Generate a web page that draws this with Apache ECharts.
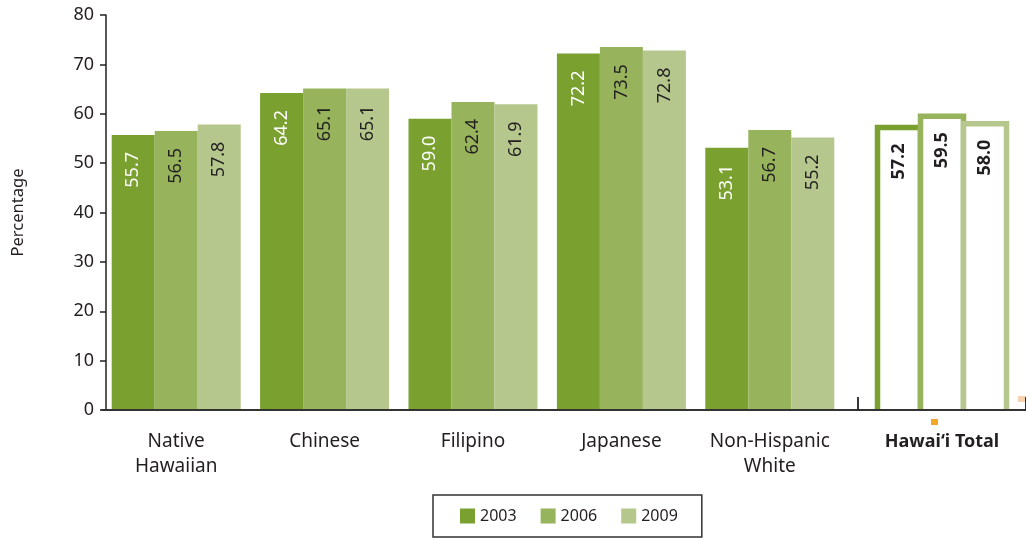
<!DOCTYPE html>
<html><head><meta charset="utf-8">
<script src="https://cdn.jsdelivr.net/npm/echarts@6/dist/echarts.min.js"></script>
<style>html,body{margin:0;padding:0;background:#fff}#c{width:1026px;height:540px}</style>
</head><body><div id="c"></div>
<script>
const categories = ['Native\nHawaiian', 'Chinese', 'Filipino', 'Japanese', 'Non-Hispanic\nWhite'];
const totalCategory = ['Hawai\u2018i Total'];
const years = ['2003', '2006', '2009'];
const v2003 = [55.7, 64.2, 59.0, 72.2, 53.1];
const v2006 = [56.5, 65.1, 62.4, 73.5, 56.7];
const v2009 = [57.8, 65.1, 61.9, 72.8, 55.2];
const total = [57.2, 59.5, 58.0];
const yTicks = {min: 0, max: 80, interval: 10};

const colors = ['#7aa12f', '#97b35c', '#b5c78d'];
const labelColors = ['#ffffff', '#231f20', '#231f20'];
const FONT = 'Noto Sans';
const TXT = '#231f20';
const groups = [v2003, v2006, v2009];
const BAR_W = 43;

const series = [];
years.forEach((y, i) => {
  series.push({
    name: y, type: 'bar', xAxisIndex: 0, yAxisIndex: 0,
    data: groups[i], barWidth: BAR_W, barGap: '0%',
    itemStyle: {color: colors[i]},
    label: {show: true, position: 'insideTop', rotate: 90, align: 'right', verticalAlign: 'middle',
      distance: 17, color: labelColors[i], fontFamily: FONT, fontSize: 18,
      formatter: p => p.value.toFixed(1)}
  });
});
// Outlined (open-bottom) bars for the Hawai'i Total group
years.forEach((y, i) => {
  series.push({
    name: y, type: 'custom', xAxisIndex: 1, yAxisIndex: 1,
    itemStyle: {color: colors[i]},
    data: [[0, total[i]]],
    renderItem: function (params, api) {
      const cat = api.value(0), v = api.value(1);
      const base = api.coord([cat, 0]);
      const top = api.coord([cat, v]);
      const cx = base[0] + (i - 1) * BAR_W;
      const x0 = cx - BAR_W / 2, x1 = cx + BAR_W / 2;
      return {
        type: 'group',
        children: [
          {type: 'rect', shape: {x: x0, y: top[1], width: BAR_W, height: base[1] - top[1]},
            style: {fill: '#ffffff'}},
          {type: 'polyline', shape: {points: [[x0, base[1]], [x0, top[1]], [x1, top[1]], [x1, base[1]]]},
            style: {stroke: colors[i], lineWidth: 5.5, fill: null, lineJoin: 'miter'}},
          {type: 'text', x: cx, y: top[1] + 16, rotation: Math.PI / 2,
            style: {text: v.toFixed(1), align: 'right', verticalAlign: 'middle',
              font: 'bold 18px "' + FONT + '"', fill: TXT}}
        ]
      };
    }
  });
});

const chart = echarts.init(document.getElementById('c'), null, {renderer: 'canvas'});
chart.setOption({
  animation: false,
  textStyle: {fontFamily: FONT, color: TXT},
  grid: [
    {left: 102, top: 15, width: 742, bottom: 130},
    {left: 858, top: 15, width: 175, bottom: 130},
    {left: 102, top: 15, right: 0, bottom: 130}
  ],
  legend: {
    data: years, left: 433, top: 495, orient: 'horizontal',
    padding: [13, 24, 13, 27], itemWidth: 15, itemHeight: 15, itemGap: 24,
    icon: 'rect', borderColor: '#333', borderWidth: 1.5,
    textStyle: {fontFamily: FONT, fontSize: 16, color: TXT}
  },
  xAxis: [
    {type: 'category', gridIndex: 0, data: categories,
      axisLine: {show: false}, axisTick: {show: false},
      axisLabel: {fontFamily: FONT, fontSize: 19, color: TXT, lineHeight: 25, margin: 19, interval: 0}},
    {type: 'category', gridIndex: 1, data: totalCategory, z: 10,
      axisLine: {show: false},
      axisTick: {show: true, inside: true, length: 13, lineStyle: {color: TXT, width: 1.8}},
      axisLabel: {fontFamily: FONT, fontSize: 18, fontWeight: 'bold', color: TXT, lineHeight: 25, margin: 19, interval: 0}},
    {type: 'category', gridIndex: 2, data: [''], z: 10,
      axisLine: {show: true, lineStyle: {color: '#333', width: 1.8}},
      axisTick: {show: false}, axisLabel: {show: false}}
  ],
  yAxis: [
    {type: 'value', gridIndex: 0, min: yTicks.min, max: yTicks.max, interval: yTicks.interval, offset: -4,
      name: 'Percentage', nameLocation: 'middle', nameGap: 79,
      nameTextStyle: {fontFamily: FONT, fontSize: 16.5, color: TXT},
      axisLine: {show: true, lineStyle: {color: TXT, width: 1.5}},
      axisTick: {show: true, length: 6, lineStyle: {color: TXT, width: 1.5}},
      splitLine: {show: false},
      axisLabel: {fontFamily: FONT, fontSize: 18, color: TXT, margin: 12}},
    {type: 'value', gridIndex: 1, min: yTicks.min, max: yTicks.max, interval: yTicks.interval, show: false,
      splitLine: {show: false}},
    {type: 'value', gridIndex: 2, min: yTicks.min, max: yTicks.max, interval: yTicks.interval, show: false,
      splitLine: {show: false}}
  ],
  graphic: [
    {type: 'rect', left: 931, top: 419, shape: {width: 7, height: 6}, style: {fill: '#f5a623'}},
    {type: 'rect', left: 1018, top: 396, shape: {width: 8, height: 6}, style: {fill: '#f8d2ae'}}
  ],
  series: series
});
</script></body></html>
